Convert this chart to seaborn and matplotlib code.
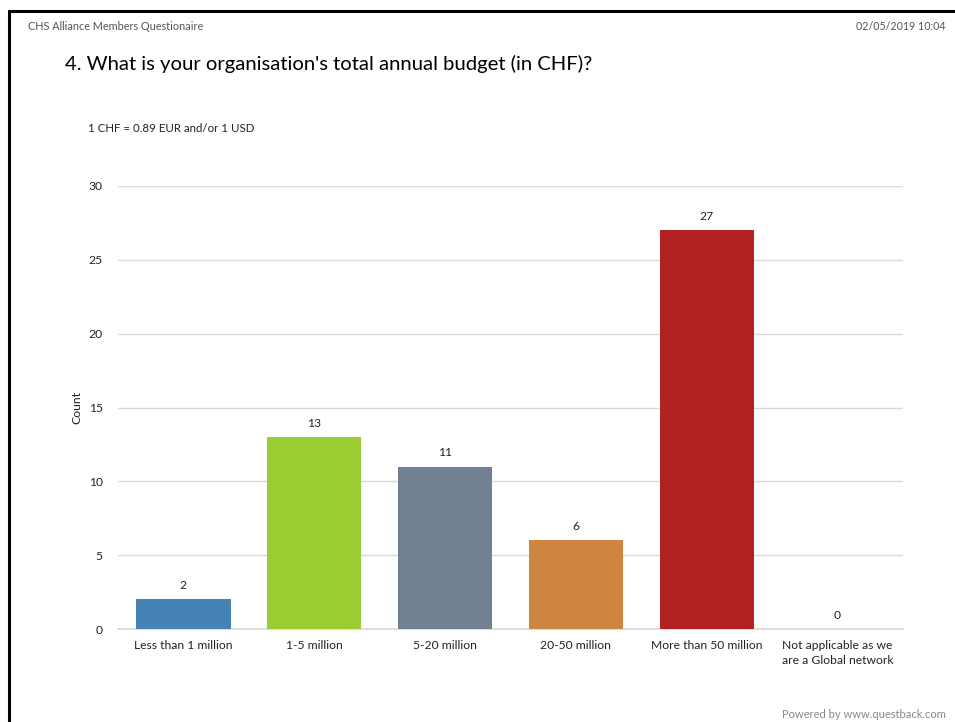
import matplotlib
matplotlib.use("Agg")
import matplotlib.pyplot as plt
import seaborn as sns
import pandas as pd

categories = ["Less than 1 million", "1-5 million", "5-20 million", "20-50 million",
              "More than 50 million", "Not applicable as we\nare a Global network"]
counts = [2, 13, 11, 6, 27, 0]
colors = ["#4682B4", "#9ACD32", "#708090", "#CD853F", "#B22222", "#4682B4"]
y_ticks = [0, 5, 10, 15, 20, 25, 30]

sns.set_theme(style="white")
plt.rcParams["font.family"] = ["Lato", "DejaVu Sans"]

df = pd.DataFrame({"category": categories, "count": counts})

fig = plt.figure(figsize=(9.55, 7.22), dpi=100)
ax = fig.add_axes([118 / 955, 1 - 629 / 722, (903 - 118) / 955, (629 - 186) / 722])

sns.barplot(data=df, x="category", y="count", hue="category", palette=colors,
            legend=False, width=0.72, saturation=1, linewidth=0, ax=ax, zorder=3)

ax.set_ylim(0, 30)
ax.set_xlim(-0.5, 5.5)
ax.set_yticks(y_ticks)
ax.yaxis.grid(True, color="#d9d9d9", linewidth=1, zorder=0)
for s in ["top", "right", "left"]:
    ax.spines[s].set_visible(False)
ax.spines["bottom"].set_color("#d9d9d9")
ax.tick_params(axis="both", length=0, labelsize=8.7, colors="#222222")
ax.tick_params(axis="y", pad=11)
ax.tick_params(axis="x", pad=8)
for lbl in ax.get_xticklabels():
    lbl.set_linespacing(1.45)
ax.set_xlabel("")
ax.set_ylabel("Count", fontsize=8.7, color="#222222")
ax.yaxis.set_label_coords(-0.046, 0.5)

for i, v in enumerate(counts):
    ax.text(i, v + 0.55, str(v), ha="center", va="bottom", fontsize=8.7, color="#222222")

# page frame and header texts
fig.add_artist(plt.Line2D([9 / 955, 9 / 955], [0, 1 - 11 / 722], color="black",
                          linewidth=2.2, transform=fig.transFigure))
fig.add_artist(plt.Line2D([9 / 955, 1], [1 - 11 / 722, 1 - 11 / 722], color="black",
                          linewidth=2.2, transform=fig.transFigure))
fig.text(28 / 955, 1 - 27 / 722, "CHS Alliance Members Questionaire", fontsize=7.8,
         color="#555555", va="center", ha="left")
fig.text(946 / 955, 1 - 27 / 722, "02/05/2019 10:04", fontsize=7.7,
         color="#555555", va="center", ha="right")
fig.text(65 / 955, 1 - 64 / 722, "4. What is your organisation's total annual budget (in CHF)?",
         fontsize=14.6, color="black", va="center", ha="left")
fig.text(88 / 955, 1 - 129 / 722, "1 CHF = 0.89 EUR and/or 1 USD", fontsize=8.3,
         color="#222222", va="center", ha="left")
fig.text(946 / 955, 1 - 714 / 722, "Powered by www.questback.com", fontsize=8,
         color="#888888", va="center", ha="right")

fig.savefig("out.png", dpi=100)
